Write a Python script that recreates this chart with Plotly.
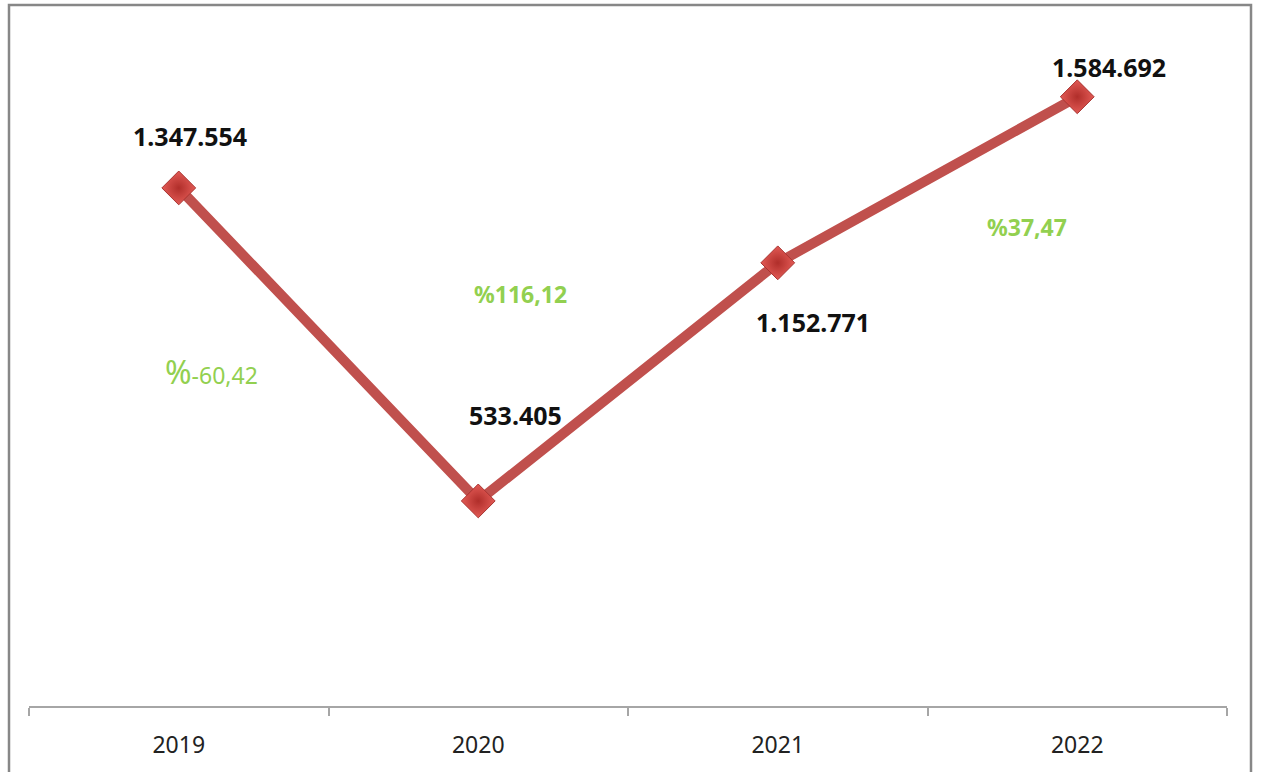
import plotly.graph_objects as go

years = ["2019", "2020", "2021", "2022"]
values = [1347554, 533405, 1152771, 1584692]
value_labels = ["1.347.554", "533.405", "1.152.771", "1.584.692"]
change_labels = ["%-60,42", "%116,12", "%37,47"]

W, H = 1261, 772
ml, mr, mt, mb = 29, 34, 14, 58
pw, ph = W - ml - mr, H - mt - mb

def px_to_paper(px, py):
    return (px - ml) / pw, (H - mb - py) / ph

fig = go.Figure()
fig.add_trace(go.Scatter(
    x=years, y=values, mode="lines+markers",
    line=dict(color="#C0504D", width=10),
    marker=dict(symbol="diamond", size=26, color="#E25A55",
                gradient=dict(type="radial", color="#B02E2A"),
                line=dict(color="#A83330", width=1)),
    hoverinfo="skip", showlegend=False,
))

label_font = dict(family="Noto Sans", size=25, color="#111111")
shifts = [(11, 52), (37, 86), (35, -59), (32, 30)]
for i, (v, lab, (dx, dy)) in enumerate(zip(values, value_labels, shifts)):
    fig.add_annotation(x=i, y=v, xref="x", yref="y", text="<b>%s</b>" % lab,
                       showarrow=False, xshift=dx, yshift=dy, font=label_font)

green = "#92D050"
pct_pos = [(211, 376), (520, 297), (1027, 229)]
pct_texts = [
    '<span style="font-size:32px">%</span>' + change_labels[0][1:],
    "<b>%s</b>" % change_labels[1],
    "<b>%s</b>" % change_labels[2],
]
for (px, py), t in zip(pct_pos, pct_texts):
    xp, yp = px_to_paper(px, py)
    fig.add_annotation(x=xp, y=yp, xref="paper", yref="paper", text=t,
                       showarrow=False, xanchor="center", yanchor="middle",
                       font=dict(family="Noto Sans", size=23, color=green))

# outer frame
x0, y1 = px_to_paper(9, 5)
x1, y0 = px_to_paper(1251, 790)
fig.add_shape(type="rect", xref="paper", yref="paper", x0=x0, x1=x1, y0=y0, y1=y1,
              line=dict(color="#878787", width=2.5), layer="below")

fig.update_layout(
    width=W, height=H,
    margin=dict(l=ml, r=mr, t=mt, b=mb),
    paper_bgcolor="white", plot_bgcolor="white",
    xaxis=dict(type="category", range=[-0.5, 3.5], tickson="boundaries",
               ticks="outside", ticklen=8, tickcolor="#A6A6A6", tickwidth=1.5,
               showline=True, linecolor="#A6A6A6", linewidth=1.5,
               showgrid=False, zeroline=False,
               tickfont=dict(family="Noto Sans", size=23, color="#222222"),
               ticklabelstandoff=18),
    yaxis=dict(range=[0, 1800000], visible=False, showgrid=False),
)

fig.write_html("out.html", config={"displayModeBar": False},
               post_script="document.body.style.margin='0';document.body.style.overflow='hidden';")
